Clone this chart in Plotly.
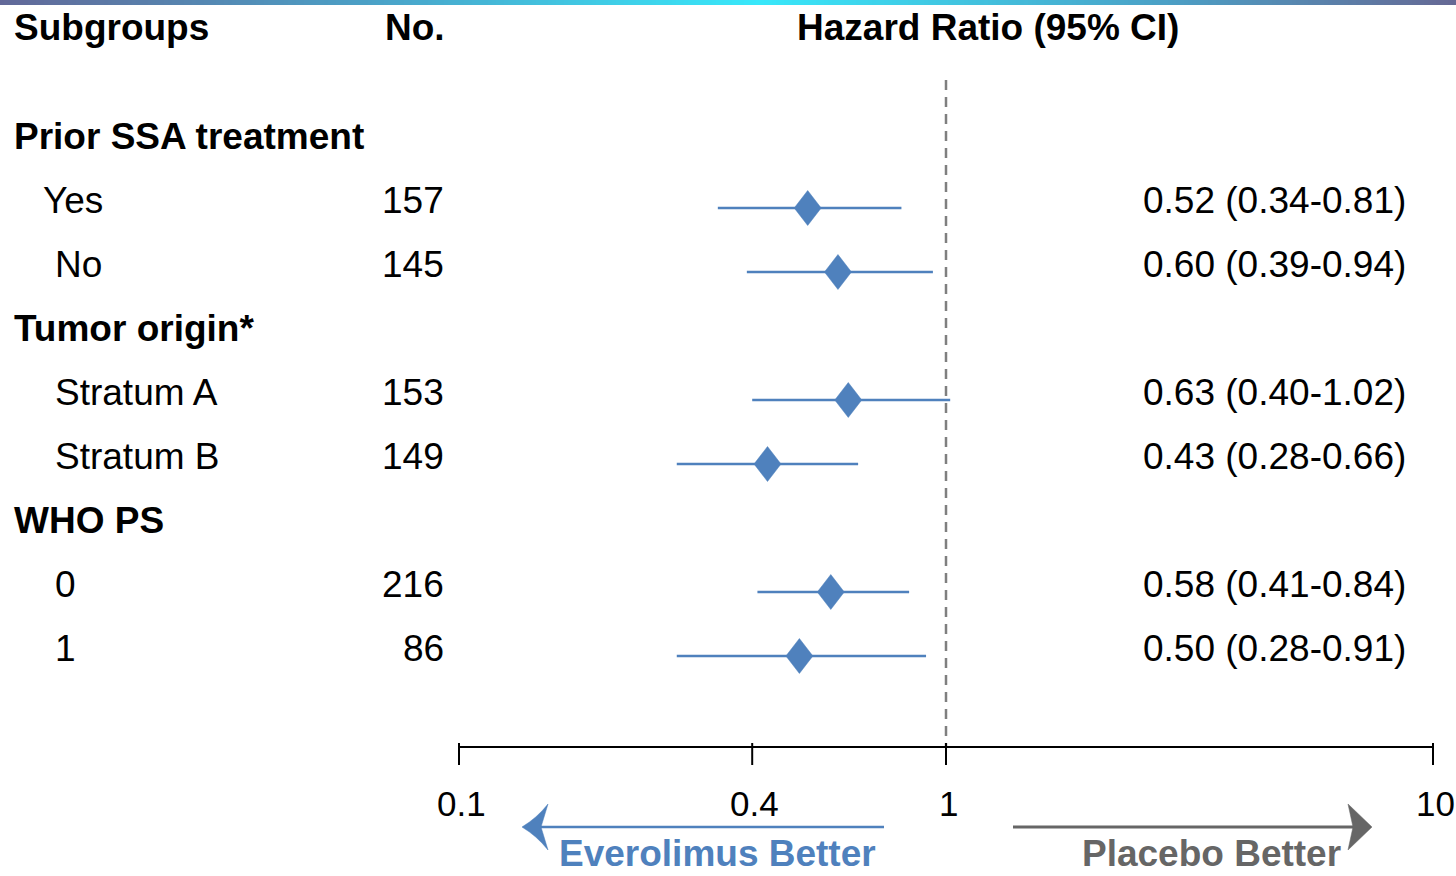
import math
import plotly.graph_objects as go

# ---- data -------------------------------------------------------------
groups = ["Prior SSA treatment", "Tumor origin*", "WHO PS"]
group_rows = [0, 3, 6]

subgroups = ["Yes", "No", "Stratum A", "Stratum B", "0", "1"]
sub_rows = [1, 2, 4, 5, 7, 8]
n_patients = [157, 145, 153, 149, 216, 86]
hr = [0.52, 0.60, 0.63, 0.43, 0.58, 0.50]
ci_low = [0.34, 0.39, 0.40, 0.28, 0.41, 0.28]
ci_high = [0.81, 0.94, 1.02, 0.66, 0.84, 0.91]

tick_vals = [0.1, 0.4, 1, 10]
tick_text = ["0.1", "0.4", "1", "10"]

# ---- geometry helpers ---------------------------------------------------
W, H = 1456, 876
DECADE_PX = 487.0          # pixels per log10 unit on the x axis
X01_PX = 459.0             # pixel position of HR = 0.1
ROW0_PX, ROW_PX = 144.0, 64.0

x_lo = -1 - X01_PX / DECADE_PX
x_hi = -1 + (W - X01_PX) / DECADE_PX
y_top = -ROW0_PX / ROW_PX
y_bot = (H - ROW0_PX) / ROW_PX


def px(x):
    return x / W


def py(y):
    return 1 - y / H


FONT = "Liberation Sans, Arial, Helvetica, sans-serif"
BLUE = "#4f81bd"
GREY = "#666666"
FS = 37

fig = go.Figure()

# confidence-interval whiskers
cx, cy = [], []
for lo, hi, r in zip(ci_low, ci_high, sub_rows):
    cx += [lo, hi, None]
    cy += [r, r, None]
fig.add_trace(go.Scatter(x=cx, y=cy, mode="lines",
                         line=dict(color=BLUE, width=2.5),
                         hoverinfo="skip", showlegend=False))

# diamond markers at the point estimates (drawn as filled polygons)
half_w = 10 ** (13.5 / DECADE_PX)
half_h = 17.5 / ROW_PX
dx, dy = [], []
for v, r in zip(hr, sub_rows):
    dx += [v / half_w, v, v * half_w, v, v / half_w, None]
    dy += [r, r - half_h, r, r + half_h, r, None]
fig.add_trace(go.Scatter(x=dx, y=dy, mode="lines", fill="toself",
                         fillcolor=BLUE, line=dict(color=BLUE, width=0.5),
                         hoverinfo="skip", showlegend=False))

shapes = []

# gradient banner along the top edge
stops = [(0.0, (98, 104, 152)), (0.25, (75, 160, 198)), (0.52, (56, 232, 250)),
         (0.80, (75, 160, 198)), (1.0, (102, 104, 148))]


def grad(t):
    for (t0, c0), (t1, c1) in zip(stops[:-1], stops[1:]):
        if t0 <= t <= t1:
            f = (t - t0) / (t1 - t0)
            return "rgb(%d,%d,%d)" % tuple(round(a + (b - a) * f) for a, b in zip(c0, c1))
    return "rgb(%d,%d,%d)" % stops[-1][1]


seg = 4
for i in range(0, W, seg):
    shapes.append(dict(type="rect", xref="paper", yref="paper",
                       x0=px(i), x1=px(i + seg + 0.5), y0=py(5), y1=1,
                       fillcolor=grad((i + seg / 2) / W), line=dict(width=0),
                       layer="below"))

# reference line at HR = 1
shapes.append(dict(type="line", xref="x", yref="paper", x0=1, x1=1,
                   y0=py(80), y1=py(747),
                   line=dict(color="#7f7f7f", width=2.5, dash="10px,7px")))

# x axis line and ticks
shapes.append(dict(type="line", xref="x", yref="paper", x0=tick_vals[0], x1=tick_vals[-1],
                   y0=py(747), y1=py(747), line=dict(color="black", width=2)))
for t in tick_vals:
    shapes.append(dict(type="line", xref="x", yref="paper", x0=t, x1=t,
                       y0=py(743), y1=py(765), line=dict(color="black", width=2)))

# direction arrows
shapes.append(dict(type="line", xref="paper", yref="paper",
                   x0=px(884), x1=px(540), y0=py(827), y1=py(827),
                   line=dict(color=BLUE, width=2.5)))


def P(x, y):
    return "%.6f,%.6f" % (px(x), py(y))


shapes.append(dict(type="path", xref="paper", yref="paper",
                   path="M%s Q%s %s L%s L%s Q%s %s Z" % (
                       P(522, 827), P(537, 818), P(548, 804), P(541, 827),
                       P(548, 850), P(537, 836), P(522, 827)),
                   fillcolor=BLUE, line=dict(color=BLUE, width=0.5)))
shapes.append(dict(type="line", xref="paper", yref="paper",
                   x0=px(1013), x1=px(1356), y0=py(827), y1=py(827),
                   line=dict(color=GREY, width=3)))
shapes.append(dict(type="path", xref="paper", yref="paper",
                   path="M%s L%s L%s L%s Z" % (P(1372, 827), P(1348, 804),
                                             P(1353, 827), P(1348, 850)),
                   fillcolor=GREY, line=dict(color=GREY, width=0.5)))

ann = []


def text(x, y, s, anchor="left", bold=False, color="black", size=FS,
         xref="paper", yref="paper", yshift=0, yanchor="middle"):
    ann.append(dict(x=x, y=y, xref=xref, yref=yref, text=("<b>%s</b>" % s) if bold else s,
                    showarrow=False, xanchor=anchor, yanchor=yanchor, yshift=yshift,
                    font=dict(family=FONT, size=size, color=color)))


# column headers
text(px(12), py(27), "Subgroups", bold=True)
text(px(447), py(27), "No.", anchor="right", bold=True)
text(px(988), py(27), "Hazard Ratio (95% CI)", anchor="center", bold=True)

# group headings
for g, r in zip(groups, group_rows):
    text(px(12), r, g, bold=True, yref="y", yshift=8)

# subgroup rows: label, count, HR text
indent = {"Yes": 41}
for s, r, n, v, lo, hi in zip(subgroups, sub_rows, n_patients, hr, ci_low, ci_high):
    text(px(indent.get(s, 53)), r, s, yref="y", yshift=8)
    text(px(446), r, str(n), anchor="right", yref="y", yshift=8)
    text(px(1408), r, "%.2f (%.2f-%.2f)" % (v, lo, hi), anchor="right", yref="y", yshift=8)

# tick labels (annotation x on a log axis is given in log10 units)
for t, s in zip(tick_vals, tick_text):
    ann.append(dict(x=math.log10(t), y=py(803), xref="x", yref="paper", text=s,
                    showarrow=False, xanchor="center", yanchor="middle", xshift=2,
                    font=dict(family=FONT, size=35, color="black")))

# arrow captions, sitting on the bottom edge
text(px(717), 0, "Everolimus Better", anchor="center", bold=True, color=BLUE,
     yanchor="bottom")
text(px(1211), 0, "Placebo Better", anchor="center", bold=True, color=GREY,
     yanchor="bottom")

fig.update_layout(
    width=W, height=H,
    margin=dict(l=0, r=0, t=0, b=0),
    paper_bgcolor="white", plot_bgcolor="white",
    xaxis=dict(type="log", range=[x_lo, x_hi], visible=False, fixedrange=True),
    yaxis=dict(range=[y_bot, y_top], visible=False, fixedrange=True),
    shapes=shapes, annotations=ann, showlegend=False,
)

fig.write_html("out.html")
